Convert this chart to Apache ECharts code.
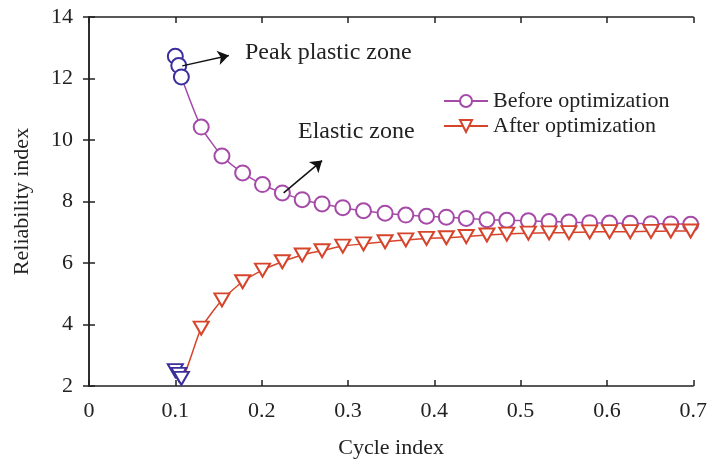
<!DOCTYPE html>
<html>
<head>
<meta charset="utf-8">
<script src="https://cdn.jsdelivr.net/npm/echarts@6/dist/echarts.min.js"></script>
<style>
  html, body { margin: 0; padding: 0; background: #fff; }
  #chart { width: 710px; height: 464px; }
</style>
</head>
<body>
<div id="chart"></div>
<script>
// cycle index of each marker (same for both curves)
const cycleIdx = [0.100, 0.104, 0.107, 0.130, 0.154, 0.178, 0.201, 0.224, 0.247, 0.270,
    0.294, 0.318, 0.343, 0.367, 0.391, 0.414, 0.437, 0.461, 0.484, 0.509,
    0.533, 0.556, 0.580, 0.603, 0.627, 0.651, 0.674, 0.697];
const beforeOpt = [12.72, 12.42, 12.05, 10.42, 9.48, 8.93, 8.55, 8.28, 8.06, 7.92,
    7.80, 7.70, 7.62, 7.56, 7.52, 7.49, 7.45, 7.41, 7.39, 7.37,
    7.35, 7.33, 7.31, 7.30, 7.29, 7.28, 7.27, 7.26];
const afterOpt = [2.50, 2.38, 2.25, 3.88, 4.80, 5.39, 5.77, 6.04, 6.26, 6.40,
    6.55, 6.62, 6.69, 6.75, 6.80, 6.82, 6.86, 6.91, 6.94, 6.97,
    6.98, 6.99, 7.01, 7.02, 7.02, 7.03, 7.04, 7.04];
const peakCount = 3; // first markers drawn in blue (peak plastic zone)

const purple = '#a54aa8';
const red = '#d6452b';
const blue = '#3c2f9c';
const font = 'Liberation Serif';
const ink = '#222';

function toPoints(ys) {
    return ys.map(function (y, i) {
        const p = { value: [cycleIdx[i], y] };
        if (i < peakCount) p.itemStyle = { color: blue };
        return p;
    });
}

let myChart = echarts.init(document.getElementById('chart'));

const hiddenAxis = {
    axisLine: { show: true, lineStyle: { color: ink, width: 1.5 } },
    axisTick: { show: true, inside: true, length: 6, lineStyle: { color: ink, width: 1.5 } },
    axisLabel: { show: false },
    splitLine: { show: false }
};

myChart.setOption({
    animation: false,
    grid: { left: 89, right: 10, top: 17, bottom: 78 },
    legend: {
        orient: 'vertical',
        left: 438,
        top: 85,
        itemWidth: 44,
        itemHeight: 15,
        itemGap: 3,
        textStyle: { fontFamily: font, fontSize: 22, color: ink },
        data: ['Before optimization', 'After optimization']
    },
    xAxis: [
        {
            type: 'value', min: 0, max: 0.7, interval: 0.1,
            name: 'Cycle index', nameLocation: 'middle', nameGap: 51,
            nameTextStyle: { fontFamily: font, fontSize: 22, color: ink },
            axisLine: { show: true, lineStyle: { color: ink, width: 1.5 } },
            axisTick: { show: true, inside: true, length: 6, lineStyle: { color: ink, width: 1.5 } },
            axisLabel: {
                margin: 14, fontFamily: font, fontSize: 22, color: ink,
                formatter: function (v) { return v === 0 ? '0' : v.toFixed(1); }
            },
            splitLine: { show: false }
        },
        Object.assign({ type: 'value', min: 0, max: 0.7, interval: 0.1, position: 'top' }, hiddenAxis)
    ],
    yAxis: [
        {
            type: 'value', min: 2, max: 14, interval: 2,
            name: 'Reliability index', nameLocation: 'middle', nameGap: 56,
            nameTextStyle: { fontFamily: font, fontSize: 22, color: ink },
            axisLine: { show: true, lineStyle: { color: ink, width: 1.5 } },
            axisTick: { show: true, inside: true, length: 6, lineStyle: { color: ink, width: 1.5 } },
            axisLabel: { margin: 16, fontFamily: font, fontSize: 22, color: ink },
            splitLine: { show: false }
        },
        Object.assign({ type: 'value', min: 2, max: 14, interval: 2, position: 'right' }, hiddenAxis)
    ],
    graphic: [
        { type: 'text', left: 245, top: 41, style: { text: 'Peak plastic zone', font: '24px "Liberation Serif"', fill: ink } },
        { type: 'text', left: 298, top: 120, style: { text: 'Elastic zone', font: '24px "Liberation Serif"', fill: ink } }
    ],
    series: [
        {
            name: 'Before optimization',
            type: 'line',
            data: toPoints(beforeOpt),
            symbol: 'emptyCircle',
            symbolSize: 15,
            smooth: 0.2,
            itemStyle: { color: purple, borderWidth: 1.5 },
            lineStyle: { color: purple, width: 1.5 },
            markLine: {
                silent: true,
                symbol: ['none', 'arrow'],
                symbolSize: 11,
                label: { show: false },
                lineStyle: { color: '#111', width: 1.5, type: 'solid' },
                data: [
                    [{ coord: [0.108, 12.41] }, { coord: [0.162, 12.75] }],
                    [{ coord: [0.2255, 8.28] }, { coord: [0.270, 9.33] }]
                ]
            }
        },
        {
            name: 'After optimization',
            type: 'line',
            data: toPoints(afterOpt),
            symbol: 'emptyTriangle',
            symbolRotate: 180,
            symbolSize: [15, 13],
            smooth: 0.2,
            itemStyle: { color: red, borderWidth: 1.5 },
            lineStyle: { color: red, width: 1.5 }
        }
    ]
});
</script>
</body>
</html>
